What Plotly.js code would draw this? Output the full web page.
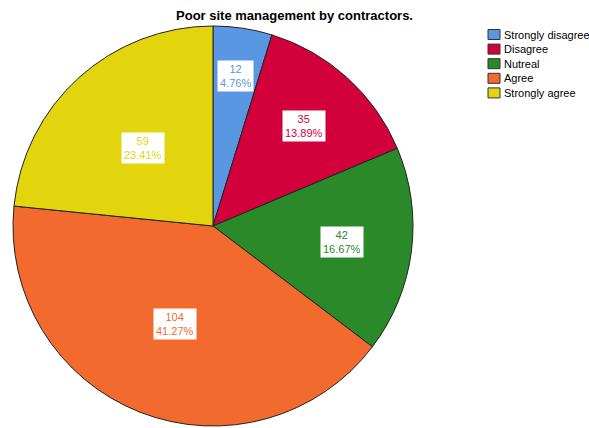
<!DOCTYPE html>
<html>
<head>
<meta charset="utf-8">
<script src="https://cdn.plot.ly/plotly-3.0.1.min.js"></script>
<style>html,body{margin:0;padding:0;background:#fff;}#chart{width:589px;height:428px;}</style>
</head>
<body>
<div id="chart"></div>
<script>
const categories = ["Strongly disagree", "Disagree", "Nutreal", "Agree", "Strongly agree"];
const counts = [12, 35, 42, 104, 59];
const percentLabels = ["4.76%", "13.89%", "16.67%", "41.27%", "23.41%"];
const colors = ["#5A97E3", "#D2003B", "#2A8A2A", "#F26A2D", "#E2D50E"];

const W = 589, H = 428;
const cx = 213, cy = 226, R = 200;
const FONT = "Liberation Sans, Arial, sans-serif";

const total = counts.reduce((a, b) => a + b, 0);
const annotations = [];
const shapes = [];
let cum = 0;
counts.forEach((v, i) => {
  const p = v / total;
  const mid = (cum + p / 2) * 2 * Math.PI;
  cum += p;
  const frac = p < 0.2 ? 0.8 - 0.9 * p : 0.525;
  const px = cx + R * frac * Math.sin(mid);
  const py = cy - R * frac * Math.cos(mid);
  annotations.push({
    x: px / W, y: 1 - py / H, xref: "paper", yref: "paper",
    xanchor: "center", yanchor: "middle",
    text: v + "<br>" + percentLabels[i],
    showarrow: false,
    bgcolor: "#ffffff",
    borderpad: 2,
    font: {family: FONT, size: 11, color: colors[i]},
    align: "center"
  });
});

// legend (built from categories/colors)
const legX = 488, legY0 = 34.5, legStep = 14.6;
categories.forEach((c, i) => {
  const yc = legY0 + i * legStep;
  shapes.push({
    type: "rect", xref: "paper", yref: "paper",
    x0: legX / W, x1: (legX + 12) / W,
    y0: 1 - (yc - 5) / H, y1: 1 - (yc + 5) / H,
    fillcolor: colors[i], line: {color: "#333333", width: 1}
  });
  annotations.push({
    x: (legX + 14) / W, y: 1 - yc / H, xref: "paper", yref: "paper",
    xanchor: "left", yanchor: "middle", showarrow: false,
    text: c, font: {family: FONT, size: 11, color: "#000"}
  });
});

const data = [{
  type: "pie",
  labels: categories,
  values: counts,
  sort: false,
  direction: "clockwise",
  rotation: 0,
  textinfo: "none",
  hoverinfo: "label+value+percent",
  marker: {colors: colors, line: {color: "#222222", width: 1}},
  domain: {x: [(cx - R) / W, (cx + R) / W], y: [1 - (cy + R) / H, 1 - (cy - R) / H]}
}];

const layout = {
  width: W, height: H,
  margin: {l: 0, r: 0, t: 0, b: 0, autoexpand: false},
  paper_bgcolor: "#ffffff",
  title: {text: "Poor site management by contractors.", x: 0.5, xanchor: "center", y: 1 - 15 / H, yanchor: "middle",
    font: {family: FONT, size: 13, color: "#000", weight: "bold"}},
  showlegend: false,
  shapes: shapes,
  annotations: annotations
};

Plotly.newPlot("chart", data, layout, {displayModeBar: false, staticPlot: true});
</script>
</body>
</html>
